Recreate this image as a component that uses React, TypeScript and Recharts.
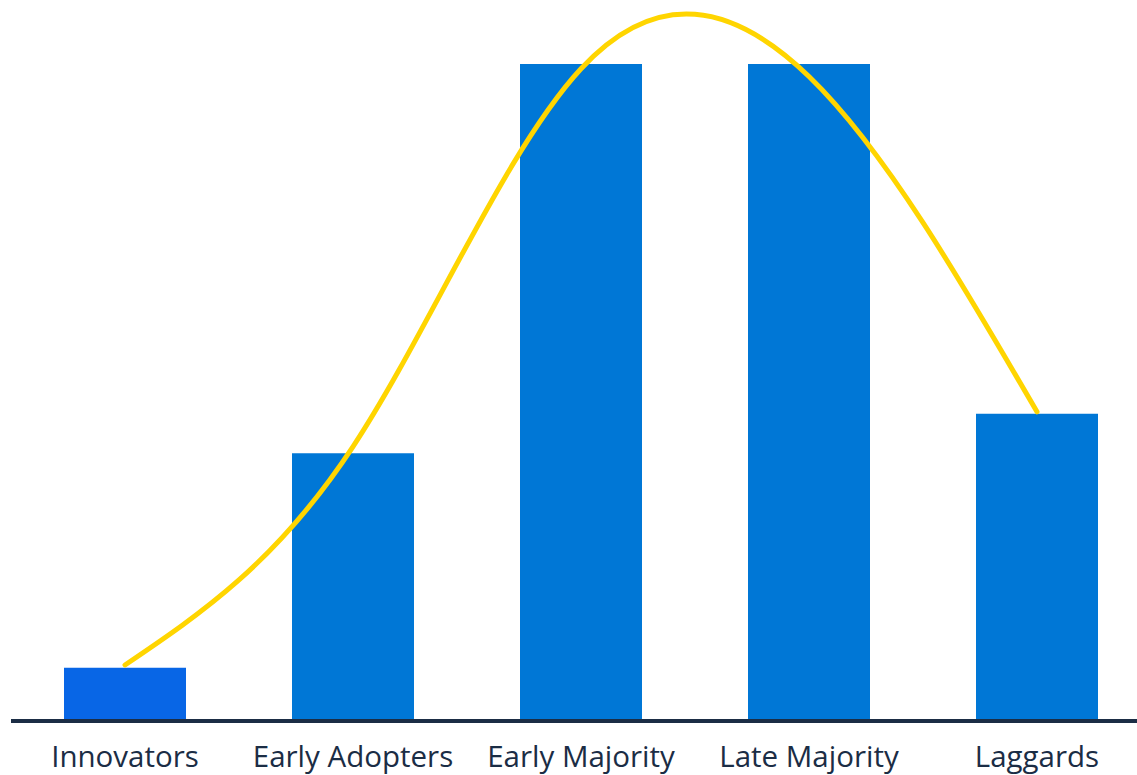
import React from 'react';
import { ComposedChart, Bar, Line, XAxis, YAxis, Cell } from 'recharts';

const categories = ['Innovators', 'Early Adopters', 'Early Majority', 'Late Majority', 'Laggards'];
const adoptionShare = [2.75, 13.85, 34, 34, 15.9];
const curveValues = [2.9, 14.2, 33.75, 33.35, 16.0];
const yDomainMax = 37;

const data = categories.map((name, i) => ({
  name,
  share: adoptionShare[i],
  curve: curveValues[i],
}));

const BAR_COLOR = '#0077d6';
const FIRST_BAR_COLOR = '#0866e6';
const LINE_COLOR = '#ffd500';
const TEXT_COLOR = '#1b2d45';

export default function App() {
  return (
    <div style={{ position: 'fixed', left: 0, top: 0, width: 1137, height: 775, overflow: 'hidden', background: '#fff' }}>
      <ComposedChart
        width={1151}
        height={775}
        data={data}
        margin={{ top: 6, right: 0, bottom: 0, left: 11 }}
      >
        <XAxis
          dataKey="name"
          height={54}
          tickLine={false}
          tickSize={0}
          tickMargin={25}
          axisLine={{ stroke: TEXT_COLOR, strokeWidth: 4 }}
          tick={{ fill: TEXT_COLOR, fontSize: 29.5, fontFamily: '"Open Sans", sans-serif' }}
          interval={0}
        />
        <YAxis hide domain={[0, yDomainMax]} />
        <Bar dataKey="share" barSize={122} isAnimationActive={false}>
          {data.map((d, i) => (
            <Cell key={d.name} fill={i === 0 ? FIRST_BAR_COLOR : BAR_COLOR} />
          ))}
        </Bar>
        <Line
          dataKey="curve"
          type="natural"
          stroke={LINE_COLOR}
          strokeWidth={5}
          strokeLinecap="round"
          dot={false}
          activeDot={false}
          isAnimationActive={false}
        />
      </ComposedChart>
    </div>
  );
}
